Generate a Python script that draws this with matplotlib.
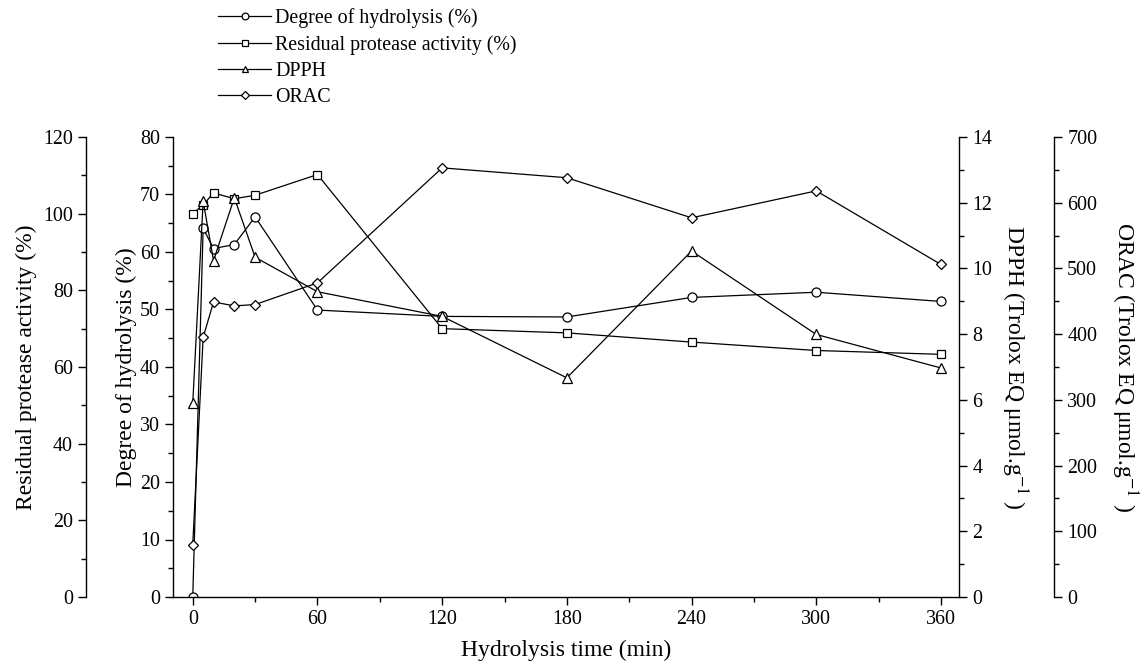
import numpy as np
import matplotlib
matplotlib.use("Agg")
import matplotlib.pyplot as plt
from matplotlib.ticker import MultipleLocator

plt.rcParams['font.family'] = ['Liberation Serif', 'DejaVu Serif']
plt.rcParams['mathtext.fontset'] = 'stix'
plt.rcParams['font.size'] = 14.4
plt.rcParams['axes.labelsize'] = 17

# Data
time_min = [0, 5, 10, 20, 30, 60, 120, 180, 240, 300, 360]
degree_hydrolysis = [0, 64.1, 60.6, 61.3, 66.1, 49.9, 48.8, 48.7, 52.1, 53.0, 51.4]
residual_activity = [100.0, 102.3, 105.4, 103.9, 104.8, 110.2, 70.0, 68.9, 66.5, 64.3, 63.3]
dpph = [5.9, 12.05, 10.24, 12.15, 10.34, 9.29, 8.54, 6.67, 10.53, 7.99, 6.97]
orac = [79.7, 395, 449, 443, 445, 478, 653, 638, 577, 618, 506]

fig = plt.figure(figsize=(11.42, 6.64), dpi=100)
ax = fig.add_axes([0.1515, 0.1009, 0.8398 - 0.1515, 0.7937 - 0.1009])
ax_res = ax.twinx()
ax_dpph = ax.twinx()
ax_orac = ax.twinx()

style = dict(color='black', lw=0.9, mfc='white', mec='black', mew=0.9)

l_orac, = ax_orac.plot(time_min, orac, marker='D', ms=5.5, **style)
l_dpph, = ax_dpph.plot(time_min, dpph, marker='^', ms=6.5, **style)
l_res, = ax_res.plot(time_min, residual_activity, marker='s', ms=5.5, **style)
l_dh, = ax.plot(time_min, degree_hydrolysis, marker='o', ms=6.5, **style)

# x axis
ax.set_xlim(-9.5, 368.7)
ax.xaxis.set_major_locator(MultipleLocator(60))
ax.xaxis.set_minor_locator(MultipleLocator(30))
ax.set_xlabel('Hydrolysis time (min)', labelpad=8)

# inner left: degree of hydrolysis
ax.set_ylim(0, 80)
ax.yaxis.set_major_locator(MultipleLocator(10))
ax.yaxis.set_minor_locator(MultipleLocator(5))
ax.set_ylabel('Degree of hydrolysis (%)', labelpad=2)

# outer left: residual protease activity
ax_res.set_ylim(0, 120)
ax_res.yaxis.set_major_locator(MultipleLocator(20))
ax_res.yaxis.set_minor_locator(MultipleLocator(10))
ax_res.spines['left'].set_visible(True)
ax_res.spines['left'].set_position(('outward', 62.6))
ax_res.spines['right'].set_visible(False)
ax_res.yaxis.set_ticks_position('left')
ax_res.yaxis.set_label_position('left')
ax_res.set_ylabel('Residual protease activity (%)', labelpad=4)

# inner right: DPPH
ax_dpph.set_ylim(0, 14)
ax_dpph.yaxis.set_major_locator(MultipleLocator(2))
ax_dpph.yaxis.set_minor_locator(MultipleLocator(1))
ax_dpph.set_ylabel('DPPH (Trolox EQ μmol.g$^{-1}$ )', rotation=-90, labelpad=27)

# outer right: ORAC
ax_orac.set_ylim(0, 700)
ax_orac.yaxis.set_major_locator(MultipleLocator(100))
ax_orac.yaxis.set_minor_locator(MultipleLocator(50))
ax_orac.spines['right'].set_position(('outward', 68.4))
ax_orac.set_ylabel('ORAC (Trolox EQ μmol.g$^{-1}$ )', rotation=-90, labelpad=30)

for a in (ax, ax_res, ax_dpph, ax_orac):
    a.spines['top'].set_visible(False)
    a.tick_params(which='major', direction='out', length=6, width=1)
    a.tick_params(which='minor', direction='out', length=3.5, width=1)
    for s in a.spines.values():
        s.set_linewidth(1)
for a in (ax_res, ax_dpph, ax_orac):
    a.spines['bottom'].set_visible(False)
ax.spines['right'].set_visible(False)
ax_dpph.spines['left'].set_visible(False)
ax_orac.spines['left'].set_visible(False)

fig.legend([l_dh, l_res, l_dpph, l_orac],
           ['Degree of hydrolysis (%)', 'Residual protease activity (%)', 'DPPH', 'ORAC'],
           loc='upper left', bbox_to_anchor=(218 / 1142, 1 - 8 / 664), frameon=False,
           borderpad=0, borderaxespad=0, handlelength=2.65, handletextpad=0.2,
           labelspacing=0.35, markerscale=0.75)

fig.savefig('out.png', dpi=100)
